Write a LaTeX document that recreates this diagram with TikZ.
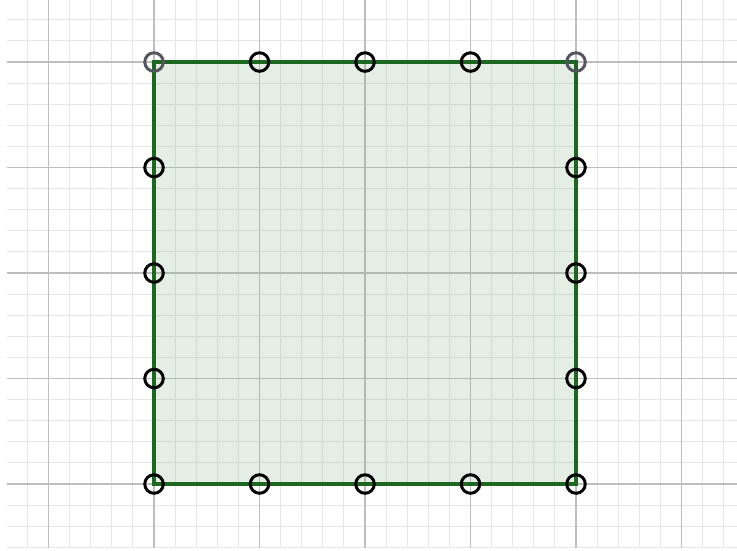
\documentclass[tikz,border=0pt]{standalone}
\usetikzlibrary{calc}

\definecolor{edgegreen}{RGB}{28,104,32}
\definecolor{fillgreen}{RGB}{120,170,120}
\definecolor{majorgray}{RGB}{190,190,190}
\definecolor{minorgray}{RGB}{230,230,230}
\definecolor{cornergray}{RGB}{85,85,95}

\tikzset{
    vtx/.style={circle, draw=black, line width=1.6pt, minimum size=10pt, inner sep=0pt},
    cvtx/.style={vtx, draw=cornergray},
}

\begin{document}
\begin{tikzpicture}[line cap=round, x=2cm, y=2cm]
    % grid paper behind the square
    \def\L{4}
    \useasboundingbox[fill=white] (-1.46,-0.626) rectangle (5.526,4.588);
    \draw[minorgray, line width=0.5pt, step=0.2] (-1.39,-0.60) grid (5.526,4.588);
    \draw[majorgray, line width=0.8pt, step=1] (-1.39,-0.60) grid (5.526,4.588);

    \coordinate (A) at (0,0);
    \coordinate (B) at (\L,0);
    \coordinate (C) at (\L,\L);
    \coordinate (D) at (0,\L);

    % filled square
    \filldraw[fill=fillgreen, fill opacity=0.2, draw=edgegreen, line width=2.4pt, line cap=butt, line join=miter]
        (A) -- (B) -- (C) -- (D) -- cycle;

    % points on the boundary
    \foreach \i in {0,...,4}{
        \node[vtx] (b\i) at (\i,0) {};
    }
    \foreach \i in {1,2,3}{
        \node[vtx] (t\i) at (\i,\L) {};
        \node[vtx] (l\i) at (0,\i) {};
        \node[vtx] (r\i) at (\L,\i) {};
    }
    \node[cvtx] (t0) at (D) {};
    \node[cvtx] (t4) at (C) {};
\end{tikzpicture}
\end{document}
